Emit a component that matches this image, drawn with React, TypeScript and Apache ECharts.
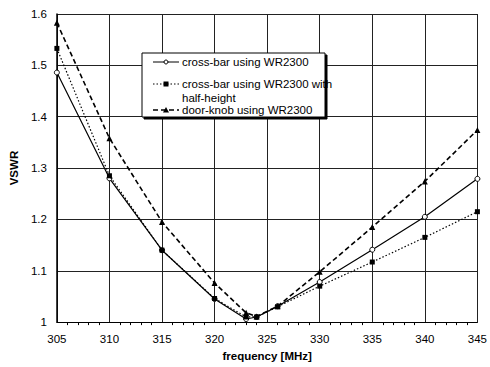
import React, { useEffect, useRef } from "react";
import * as echarts from "echarts";

const freqs = [305, 310, 315, 320, 323, 324, 326, 330, 335, 340, 345];
const crossBar = [1.486, 1.28, 1.14, 1.045, 1.006, 1.01, 1.031, 1.078, 1.141, 1.205, 1.279];
const halfHeight = [1.533, 1.285, 1.14, 1.046, 1.01, 1.01, 1.03, 1.07, 1.117, 1.165, 1.215];
const doorKnob = [1.583, 1.358, 1.195, 1.076, 1.018, 1.011, 1.031, 1.098, 1.185, 1.274, 1.374];
const seriesNames = [
  "cross-bar using WR2300",
  "cross-bar using WR2300 with\nhalf-height",
  "door-knob using WR2300",
];

const FONT = "Liberation Sans, Arial, sans-serif";

export default function App() {
  const ref = useRef<HTMLDivElement>(null);
  useEffect(() => {
    if (!ref.current) return;
    const chart = echarts.init(ref.current, null, { renderer: "svg" });
    const pair = (ys: number[]) => freqs.map((f, i) => [f, ys[i]]);
    const lx = 153, tx = 182;
    const rows = [62, 84, 110];
    const legendItems: any[] = [];
    const dashes: any[] = [null, [1.5, 2], [5, 3]];
    const widths = [1, 1, 1.5];
    rows.forEach((y, i) => {
      legendItems.push({
        type: "line",
        shape: { x1: lx, y1: y, x2: lx + 26, y2: y },
        style: { stroke: "#000", lineWidth: widths[i], lineDash: dashes[i] },
        z: 101,
      });
    });
    legendItems.push({ type: "circle", shape: { cx: lx + 13, cy: rows[0], r: 2 }, style: { fill: "#fff", stroke: "#000", lineWidth: 1 }, z: 102 });
    legendItems.push({ type: "rect", shape: { x: lx + 10.5, y: rows[1] - 2.5, width: 5, height: 5 }, style: { fill: "#000" }, z: 102 });
    legendItems.push({ type: "polygon", shape: { points: [[lx + 13, rows[2] - 3], [lx + 16, rows[2] + 2.5], [lx + 10, rows[2] + 2.5]] }, style: { fill: "#000" }, z: 102 });
    const texts = [
      { t: seriesNames[0], y: rows[0] },
      { t: "cross-bar using WR2300 with", y: rows[1] },
      { t: "half-height", y: 98 },
      { t: seriesNames[2], y: rows[2] },
    ];
    texts.forEach((o) => {
      legendItems.push({
        type: "text",
        x: tx,
        y: o.y,
        style: { text: o.t, font: `11.5px ${FONT}`, fill: "#000", textVerticalAlign: "middle", textAlign: "left" },
        z: 102,
      });
    });

    chart.setOption({
      animation: false,
      backgroundColor: "#fff",
      grid: { left: 50, right: 12, top: 14, bottom: 41 },
      xAxis: {
        type: "value",
        min: 305,
        max: 345,
        interval: 5,
        name: "frequency [MHz]",
        nameLocation: "middle",
        nameGap: 26,
        nameTextStyle: { fontFamily: FONT, fontWeight: "bold", fontSize: 11.5, color: "#000" },
        axisLine: { lineStyle: { color: "#000", width: 1 } },
        axisTick: { show: false },
        minorTick: { show: true, splitNumber: 5, length: 3, lineStyle: { color: "#000" } },
        axisLabel: { fontFamily: FONT, fontSize: 11.5, color: "#000", margin: 11 },
        splitLine: { show: true, lineStyle: { color: "#222", width: 1 } },
      },
      yAxis: {
        type: "value",
        min: 1,
        max: 1.6,
        interval: 0.1,
        name: "VSWR",
        nameLocation: "middle",
        nameGap: 35,
        nameRotate: 90,
        nameTextStyle: { fontFamily: FONT, fontWeight: "bold", fontSize: 11.5, color: "#000" },
        axisLine: { show: true, lineStyle: { color: "#000", width: 1.5 } },
        axisTick: { show: false },
        axisLabel: {
          fontFamily: FONT,
          fontSize: 11.5,
          color: "#000",
          margin: 10,
          formatter: (v: number) => String(Math.round(v * 10) / 10),
        },
        splitLine: { show: true, lineStyle: { color: "#222", width: 1 } },
      },
      series: [
        {
          name: seriesNames[0],
          type: "line",
          data: pair(crossBar),
          symbol: "circle",
          symbolSize: 5,
          itemStyle: { color: "#fff", borderColor: "#000", borderWidth: 1 },
          lineStyle: { color: "#000", width: 1.2, type: "solid" },
          z: 3,
        },
        {
          name: seriesNames[1],
          type: "line",
          data: pair(halfHeight),
          symbol: "rect",
          symbolSize: 5,
          itemStyle: { color: "#000" },
          lineStyle: { color: "#000", width: 1.2, type: [1.5, 2] },
          z: 4,
        },
        {
          name: seriesNames[2],
          type: "line",
          data: pair(doorKnob),
          symbol: "triangle",
          symbolSize: 6,
          itemStyle: { color: "#000" },
          lineStyle: { color: "#000", width: 1.6, type: [5, 3] },
          z: 5,
        },
      ],
      graphic: [
        {
          type: "rect",
          shape: { x: 142, y: 53, width: 183, height: 64 },
          style: { fill: "#fff", stroke: "#000", lineWidth: 1, shadowColor: "#000", shadowOffsetX: 2, shadowOffsetY: 2, shadowBlur: 0 },
          z: 100,
        },
        ...legendItems,
      ],
    });
    return () => chart.dispose();
  }, []);
  return <div ref={ref} style={{ width: 490, height: 367, position: "absolute", left: 0, top: 0 }} />;
}
